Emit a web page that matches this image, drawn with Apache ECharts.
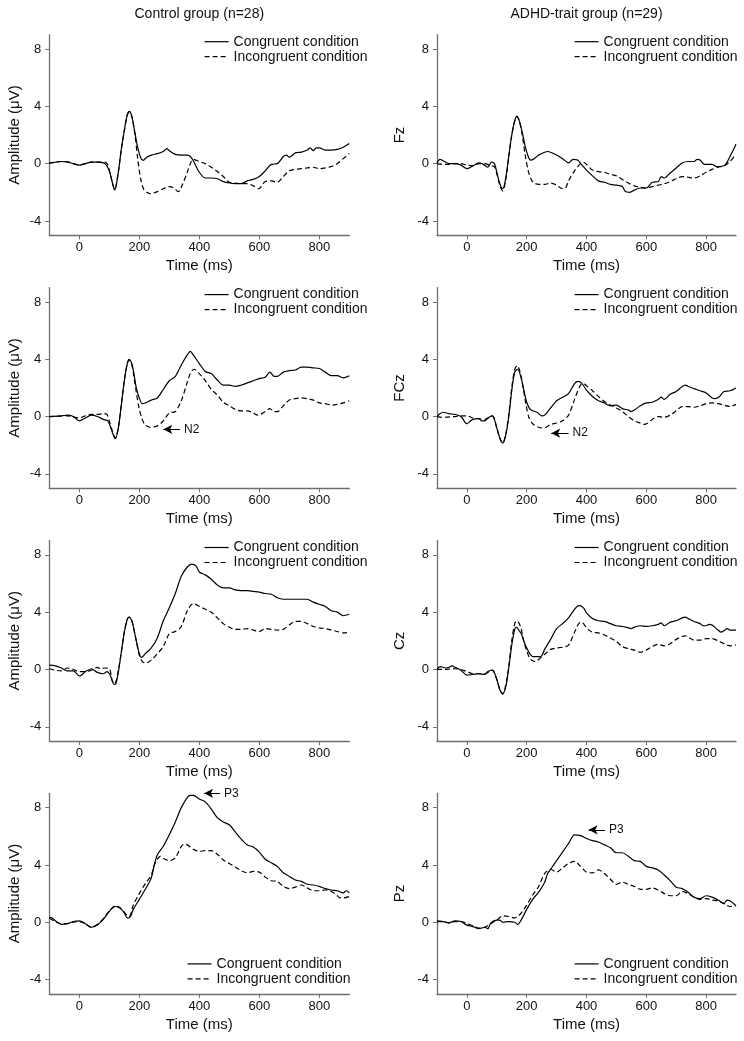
<!DOCTYPE html>
<html>
<head>
<meta charset="utf-8">
<script src="https://cdn.jsdelivr.net/npm/echarts@6/dist/echarts.min.js"></script>
<style>
html,body{margin:0;padding:0;background:#fff;}
#chart{width:744px;height:1041px;}
</style>
</head>
<body>
<div id="chart"></div>
<script>
// ---------- DATA (time ms, amplitude µV) ----------
const xTicks = [0, 200, 400, 600, 800];
const yTicks = [-4, 0, 4, 8];
const groupTitles = ['Control group (n=28)', 'ADHD-trait group (n=29)'];
const seriesNames = ['Congruent condition', 'Incongruent condition'];
const rightAxisNames = ['Fz', 'FCz', 'Cz', 'Pz'];
const leftAxisName = 'Amplitude (\u03bcV)';

const ctrlFzCong = [[-100,0.05],[-80,0.1],[-60,0.15],[-40,0.12],[-20,0],[0,-0.1],[20,0],[40,0.1],[60,0.1],[80,0.05],[90,-0.1],[100,-0.5],[110,-1.3],[118,-1.85],[130,-0.6],[140,1.0],[150,2.3],[160,3.4],[167,3.65],[175,3.3],[185,2.2],[195,1.1],[205,0.4],[213,0.23],[225,0.45],[240,0.6],[260,0.7],[280,0.85],[292,1.05],[300,0.9],[320,0.65],[340,0.6],[360,0.6],[370,0.5],[380,0.2],[400,-0.6],[420,-1.0],[440,-1.0],[460,-1.05],[480,-1.25],[500,-1.35],[520,-1.4],[540,-1.4],[560,-1.2],[580,-1.1],[600,-0.9],[620,-0.5],[640,-0.05],[660,0.0],[680,0.5],[690,0.6],[700,0.45],[720,0.75],[740,0.8],[760,0.95],[770,1.1],[780,0.9],[790,1.1],[800,1.1],[820,0.95],[840,0.95],[860,1.0],[880,1.15],[900,1.4]];
const ctrlFzInc = [[-100,0.05],[-80,0.1],[-60,0.15],[-40,0.12],[-20,0],[0,-0.1],[20,0],[40,0.1],[60,0.1],[85,0.1],[95,-0.1],[105,-0.9],[118,-1.8],[130,-0.6],[140,1.0],[150,2.3],[160,3.4],[167,3.6],[175,3.3],[185,2.1],[195,0.3],[205,-1.1],[215,-1.8],[225,-2.0],[238,-2.1],[260,-1.95],[280,-1.75],[300,-1.6],[315,-1.7],[330,-1.95],[345,-1.4],[360,-0.6],[370,0.0],[380,0.3],[400,0.15],[420,0.0],[440,-0.25],[460,-0.55],[480,-0.9],[500,-1.3],[520,-1.35],[540,-1.4],[560,-1.4],[580,-1.55],[598,-1.75],[620,-1.25],[640,-1.2],[660,-1.3],[680,-0.9],[700,-0.5],[720,-0.4],[740,-0.35],[760,-0.3],[780,-0.25],[800,-0.35],[820,-0.3],[840,-0.2],[860,0.0],[880,0.35],[900,0.7]];

const adhdFzCong = [[-100,0.05],[-90,0.3],[-75,0.15],[-60,0.0],[-40,0.0],[-20,-0.1],[0,-0.35],[20,-0.15],[40,0.05],[55,-0.05],[70,-0.25],[82,0.1],[92,0.0],[100,-0.6],[110,-1.4],[120,-1.75],[130,-1.0],[140,0.5],[150,2.0],[160,3.0],[167,3.3],[175,3.0],[185,2.2],[195,1.2],[205,0.5],[213,0.25],[225,0.35],[240,0.6],[260,0.8],[270,0.85],[280,0.8],[300,0.6],[320,0.35],[340,0.05],[355,0.3],[370,0.25],[385,-0.1],[400,-0.45],[420,-0.85],[440,-1.2],[460,-1.3],[480,-1.45],[500,-1.5],[520,-1.6],[530,-1.95],[545,-2.0],[560,-1.85],[580,-1.7],[600,-1.7],[620,-1.3],[640,-1.25],[650,-0.9],[660,-1.0],[680,-0.65],[700,-0.3],[720,0.05],[740,0.15],[760,0.15],[770,0.3],[780,0.25],[795,-0.05],[820,-0.05],[835,-0.2],[860,-0.15],[880,0.5],[900,1.35]];
const adhdFzInc = [[-100,0.0],[-80,-0.05],[-60,-0.05],[-40,0.0],[-20,0.0],[0,-0.1],[20,-0.15],[40,0.0],[60,0.0],[80,-0.15],[92,-0.2],[100,-0.7],[110,-1.5],[120,-1.9],[130,-1.1],[140,0.5],[150,2.0],[160,3.0],[167,3.3],[175,3.0],[185,2.0],[195,0.6],[205,-0.5],[215,-1.1],[225,-1.35],[240,-1.45],[260,-1.45],[280,-1.35],[300,-1.5],[320,-1.75],[330,-1.7],[340,-1.2],[360,-0.5],[380,0.0],[390,0.1],[400,-0.05],[420,-0.45],[440,-0.55],[460,-0.6],[480,-0.75],[500,-0.85],[520,-1.1],[540,-1.35],[560,-1.55],[580,-1.65],[600,-1.7],[620,-1.6],[640,-1.5],[660,-1.4],[680,-1.25],[700,-1.05],[720,-0.9],[740,-0.95],[760,-1.0],[780,-0.85],[800,-0.6],[820,-0.4],[840,-0.25],[860,-0.15],[880,0.15],[900,0.65]];

const ctrlFCzCong = [[-100,0.0],[-60,0.05],[-40,0.1],[-20,0.0],[0,-0.3],[20,-0.1],[40,0.1],[60,0.0],[80,-0.2],[95,-0.3],[105,-0.8],[112,-1.2],[120,-1.55],[130,-0.8],[140,0.8],[150,2.5],[160,3.7],[166,4.0],[175,3.7],[182,3.0],[190,2.0],[200,1.3],[210,0.9],[220,0.95],[240,1.15],[260,1.3],[280,1.9],[300,2.5],[320,2.8],[340,3.6],[360,4.3],[370,4.55],[380,4.3],[400,3.7],[420,3.15],[440,3.0],[460,2.55],[480,2.2],[500,2.2],[520,2.1],[540,2.2],[560,2.35],[580,2.5],[600,2.65],[620,2.75],[635,3.1],[650,2.8],[660,2.8],[680,3.1],[700,3.2],[720,3.25],[740,3.45],[760,3.45],[780,3.4],[800,3.35],[820,3.1],[840,2.85],[860,2.85],[880,2.7],[900,2.85]];
const ctrlFCzInc = [[-100,0.0],[-40,0.05],[0,-0.1],[20,0.05],[40,0.15],[60,0.15],[80,0.2],[92,0.15],[100,-0.3],[110,-1.0],[120,-1.5],[130,-0.8],[140,0.8],[150,2.5],[160,3.7],[166,3.95],[175,3.6],[182,2.8],[190,1.7],[200,0.5],[210,-0.2],[220,-0.6],[238,-0.75],[260,-0.65],[280,-0.3],[300,0.25],[320,0.35],[340,1.1],[360,2.4],[370,3.0],[382,3.3],[400,3.0],[420,2.5],[440,1.9],[460,1.5],[480,1.0],[500,0.75],[520,0.5],[540,0.4],[560,0.4],[580,0.25],[595,0.1],[620,0.35],[635,0.55],[650,0.35],[660,0.35],[680,0.75],[700,1.15],[720,1.25],[740,1.3],[760,1.25],[780,1.15],[800,0.95],[820,0.9],[840,0.8],[860,0.85],[880,0.95],[900,1.1]];

const adhdFCzCong = [[-100,0.0],[-90,0.2],[-80,0.3],[-60,0.2],[-40,0.15],[-20,0.0],[0,-0.5],[10,-0.35],[20,-0.2],[40,-0.15],[50,-0.3],[60,-0.3],[70,-0.1],[85,0.05],[100,-0.8],[110,-1.5],[120,-1.85],[130,-1.3],[140,0.0],[150,1.8],[160,3.1],[170,3.3],[180,2.8],[190,1.9],[200,1.0],[210,0.55],[220,0.4],[235,0.3],[250,0.05],[260,0.1],[280,0.6],[300,1.1],[320,1.35],[340,1.6],[360,2.3],[372,2.45],[385,2.3],[400,1.85],[420,1.4],[440,1.1],[460,0.95],[480,0.75],[500,0.8],[520,0.55],[540,0.45],[550,0.35],[560,0.45],[580,0.75],[600,0.95],[620,1.0],[640,1.2],[650,1.35],[660,1.2],[680,1.55],[700,1.75],[720,2.1],[730,2.2],[740,2.1],[760,1.95],[780,1.8],[800,1.65],[820,1.3],[830,1.25],[845,1.4],[860,1.75],[880,1.8],[900,2.0]];
const adhdFCzInc = [[-100,0.0],[-80,-0.05],[-40,0.0],[-20,0.05],[0,0.05],[20,-0.1],[40,-0.15],[60,-0.2],[85,0.05],[100,-0.8],[110,-1.5],[120,-1.85],[130,-1.2],[140,0.1],[150,2.0],[160,3.3],[168,3.55],[178,3.1],[188,2.0],[198,0.8],[208,-0.1],[220,-0.5],[240,-0.75],[252,-0.8],[265,-0.75],[280,-0.55],[300,-0.45],[320,-0.3],[340,0.1],[360,1.2],[380,2.2],[390,2.3],[400,2.15],[420,1.8],[440,1.4],[460,1.05],[480,0.8],[500,0.6],[520,0.35],[540,0.0],[560,-0.3],[580,-0.45],[592,-0.55],[605,-0.45],[620,-0.2],[640,0.0],[660,-0.05],[680,0.1],[700,0.4],[720,0.7],[740,0.7],[760,0.65],[780,0.75],[800,0.9],[820,0.95],[840,0.9],[860,0.8],[880,0.7],[900,0.85]];

const ctrlCzCong = [[-100,0.3],[-80,0.25],[-60,0.1],[-40,-0.1],[-20,-0.1],[0,-0.45],[10,-0.35],[20,-0.15],[40,0.05],[60,-0.2],[80,-0.3],[92,-0.15],[102,-0.35],[110,-0.8],[116,-1.05],[122,-1.0],[130,-0.2],[140,1.2],[150,2.6],[160,3.5],[166,3.65],[175,3.4],[182,2.8],[190,2.0],[200,1.1],[206,0.85],[212,0.9],[220,1.1],[240,1.5],[260,2.2],[280,3.4],[300,4.3],[320,5.3],[340,6.5],[360,7.15],[375,7.35],[390,7.2],[400,6.8],[420,6.6],[440,6.3],[460,5.9],[480,5.7],[500,5.7],[520,5.55],[540,5.5],[560,5.5],[580,5.45],[600,5.4],[620,5.3],[640,5.25],[660,5.0],[680,4.9],[700,4.9],[720,4.9],[740,4.9],[760,4.9],[780,4.7],[800,4.55],[820,4.4],[840,4.1],[860,4.0],[880,3.75],[900,3.85]];
const ctrlCzInc = [[-100,0.05],[-80,-0.05],[-60,-0.1],[-40,0.1],[-20,0.0],[0,-0.15],[20,-0.15],[40,-0.05],[60,0.15],[70,0.05],[85,0.1],[100,0.05],[110,-0.8],[118,-1.0],[128,-0.3],[140,1.2],[150,2.6],[160,3.5],[166,3.65],[175,3.4],[182,2.8],[190,2.0],[200,1.0],[210,0.55],[222,0.45],[240,0.65],[260,1.1],[280,1.6],[300,2.5],[320,2.65],[340,3.0],[360,4.1],[380,4.6],[400,4.4],[420,4.2],[440,4.0],[460,3.6],[480,3.2],[500,2.95],[520,2.8],[540,2.8],[560,2.85],[580,2.75],[600,2.65],[620,2.85],[640,2.8],[660,2.75],[680,2.8],[700,3.1],[720,3.35],[740,3.35],[760,3.2],[780,3.0],[800,2.9],[820,2.85],[840,2.75],[860,2.65],[880,2.55],[900,2.6]];

const adhdCzCong = [[-100,0.0],[-90,0.2],[-70,0.1],[-60,0.15],[-50,0.25],[-40,0.15],[-20,-0.05],[0,-0.4],[20,-0.35],[40,-0.3],[60,-0.35],[70,-0.15],[85,-0.05],[100,-0.7],[110,-1.4],[120,-1.7],[130,-1.2],[140,0.1],[150,1.7],[160,2.8],[166,2.95],[175,2.7],[182,2.5],[190,2.0],[200,1.5],[210,1.1],[220,0.9],[240,0.9],[250,0.95],[260,1.4],[280,2.1],[300,2.85],[320,3.2],[340,3.6],[360,4.2],[375,4.45],[390,4.3],[400,3.95],[420,3.55],[440,3.4],[460,3.35],[480,3.2],[500,3.05],[520,3.0],[540,2.9],[550,2.85],[560,2.95],[580,3.05],[600,3.0],[620,3.05],[640,3.15],[650,3.25],[660,3.05],[680,3.3],[700,3.4],[720,3.6],[730,3.65],[740,3.55],[760,3.35],[780,3.2],[790,3.05],[800,3.05],[810,3.15],[820,3.1],[840,2.75],[850,2.6],[860,2.7],[870,2.85],[880,2.75],[900,2.75]];
const adhdCzInc = [[-100,0.0],[-80,0.0],[-40,0.05],[-20,0.0],[0,-0.15],[20,-0.3],[40,-0.3],[60,-0.3],[85,-0.05],[100,-0.7],[110,-1.4],[120,-1.7],[130,-1.1],[140,0.2],[150,2.0],[160,3.2],[167,3.4],[175,3.2],[182,2.8],[190,2.0],[200,1.3],[210,0.8],[220,0.6],[230,0.55],[240,0.7],[260,1.05],[280,1.4],[300,1.5],[320,1.55],[340,1.7],[360,2.6],[380,3.3],[390,3.2],[400,2.9],[420,2.6],[440,2.55],[460,2.4],[480,2.2],[500,1.95],[520,1.6],[540,1.45],[560,1.35],[580,1.2],[600,1.35],[620,1.6],[640,1.75],[660,1.65],[680,1.8],[700,2.1],[720,2.3],[730,2.35],[740,2.25],[760,2.05],[780,2.05],[800,2.15],[820,2.15],[840,2.0],[860,1.8],[880,1.65],[900,1.7]];

const ctrlPzCong = [[-100,0.35],[-90,0.3],[-80,0.1],[-60,-0.15],[-40,-0.1],[-20,0.05],[0,0.1],[20,-0.1],[40,-0.35],[60,-0.2],[80,0.2],[100,0.75],[120,1.1],[130,1.05],[140,0.9],[150,0.65],[160,0.3],[166,0.3],[172,0.45],[180,0.9],[200,1.6],[220,2.3],[240,3.1],[250,4.0],[260,4.7],[280,5.3],[300,6.1],[320,7.0],[340,8.0],[360,8.7],[370,8.85],[380,8.85],[400,8.6],[420,8.4],[440,7.9],[460,7.3],[480,7.0],[500,6.8],[520,6.3],[540,5.8],[560,5.4],[580,5.25],[600,4.9],[620,4.4],[640,4.15],[660,3.9],[680,3.45],[700,3.2],[720,2.95],[740,2.85],[760,2.65],[780,2.6],[800,2.5],[820,2.35],[840,2.25],[860,2.2],[880,2.05],[890,2.2],[900,2.05]];
const ctrlPzInc = [[-100,0.3],[-80,0.05],[-60,-0.1],[-40,-0.1],[-20,0.0],[0,0.05],[20,-0.1],[40,-0.35],[60,-0.15],[80,0.25],[100,0.8],[120,1.15],[130,1.1],[140,0.95],[150,0.7],[160,0.45],[166,0.4],[172,0.6],[180,1.2],[200,2.0],[220,2.7],[240,3.3],[250,4.0],[260,4.4],[270,4.6],[280,4.45],[300,4.3],[320,4.5],[340,5.3],[350,5.45],[360,5.4],[380,5.1],[400,4.95],[420,5.0],[440,5.0],[460,4.75],[480,4.35],[500,4.1],[520,3.85],[540,3.6],[560,3.45],[580,3.55],[600,3.5],[620,3.15],[640,2.9],[660,2.85],[680,2.5],[700,2.35],[720,2.45],[740,2.6],[760,2.4],[780,2.2],[800,2.2],[820,2.25],[840,2.15],[860,1.85],[870,1.7],[880,1.7],[900,1.8]];

const adhdPzCong = [[-100,0.05],[-80,0.05],[-60,-0.05],[-40,0.1],[-20,0.05],[0,-0.2],[20,-0.3],[40,-0.45],[60,-0.35],[70,-0.45],[80,-0.05],[100,0.15],[110,0.15],[120,0.0],[140,0.05],[160,0.0],[170,-0.15],[180,0.1],[200,0.9],[220,1.6],[240,2.1],[260,2.8],[270,3.4],[280,3.7],[300,4.3],[320,4.9],[340,5.5],[360,6.1],[380,6.05],[400,5.85],[420,5.7],[440,5.6],[460,5.4],[480,5.2],[500,4.85],[520,4.85],[540,4.6],[560,4.3],[580,4.25],[600,3.9],[620,3.8],[640,3.65],[660,3.3],[680,2.9],[700,2.45],[720,2.35],[740,2.1],[760,1.75],[780,1.65],[800,1.85],[820,1.75],[840,1.55],[860,1.3],[870,1.55],[880,1.5],[900,1.15]];
const adhdPzInc = [[-100,0.1],[-80,0.05],[-60,-0.05],[-40,0.05],[-20,0.05],[0,-0.1],[20,-0.25],[40,-0.4],[60,-0.35],[80,-0.1],[100,0.15],[120,0.45],[140,0.4],[160,0.3],[170,0.4],[180,0.6],[200,1.2],[220,1.9],[240,2.5],[260,3.4],[280,3.7],[300,3.5],[320,3.8],[340,4.1],[360,4.25],[380,3.9],[400,3.5],[420,3.45],[440,3.65],[460,3.4],[480,3.0],[500,2.65],[520,2.8],[540,2.65],[560,2.5],[580,2.3],[600,2.3],[620,2.4],[640,2.25],[660,2.0],[680,1.85],[700,1.85],[720,2.15],[740,2.0],[760,1.75],[780,1.6],[800,1.65],[820,1.55],[840,1.5],[860,1.3],[880,1.1],[900,1.15]];

// annotation arrows: panel index, label, tail point, tip point, series (0=cong,1=inc)
const annotations = [
  {panel: 2, label: 'N2', from: [336, -0.89], to: [280, -0.89], s: 1},
  {panel: 3, label: 'N2', from: [340, -1.16], to: [282, -1.16], s: 1},
  {panel: 6, label: 'P3', from: [469, 9.0], to: [416, 9.0], s: 0},
  {panel: 7, label: 'P3', from: [462, 6.45], to: [407, 6.45], s: 0}
];

// ---------- LAYOUT ----------
const FONT = '"Liberation Sans", Arial, Helvetica, sans-serif';
const colLeft = [49.3, 437];
const colWidth = [300, 299];
const rowTop = [34.7, 287.6, 540.5, 793.3];
const gridH = 200.6;

const panels = [
  {row:0, col:0, cong: ctrlFzCong,  inc: ctrlFzInc},
  {row:0, col:1, cong: adhdFzCong,  inc: adhdFzInc},
  {row:1, col:0, cong: ctrlFCzCong, inc: ctrlFCzInc},
  {row:1, col:1, cong: adhdFCzCong, inc: adhdFCzInc},
  {row:2, col:0, cong: ctrlCzCong,  inc: ctrlCzInc},
  {row:2, col:1, cong: adhdCzCong,  inc: adhdCzInc},
  {row:3, col:0, cong: ctrlPzCong,  inc: ctrlPzInc},
  {row:3, col:1, cong: adhdPzCong,  inc: adhdPzInc}
];

const axisColor = '#6e6e6e';
const grids = [], xAxes = [], yAxes = [], series = [], legends = [];

panels.forEach((p, i) => {
  grids.push({left: colLeft[p.col], top: rowTop[p.row], width: colWidth[p.col], height: gridH});
  xAxes.push({
    type: 'value', gridIndex: i, min: -100, max: 900,
    name: 'Time (ms)', nameLocation: 'middle', nameGap: 23,
    nameTextStyle: {fontFamily: FONT, fontSize: 15, color: '#111'},
    axisLine: {show: true, onZero: false, lineStyle: {color: axisColor, width: 1.3}},
    axisTick: {show: true, length: 4, customValues: xTicks, lineStyle: {color: axisColor}},
    axisLabel: {customValues: xTicks, fontFamily: FONT, fontSize: 13, color: '#111', margin: 6},
    splitLine: {show: false}
  });
  yAxes.push({
    type: 'value', gridIndex: i, min: -5, max: 9,
    name: p.col === 0 ? leftAxisName : rightAxisNames[p.row],
    nameLocation: 'middle', nameGap: p.col === 0 ? 27 : 30,
    nameTextStyle: {fontFamily: FONT, fontSize: 15, color: '#111'},
    axisLine: {show: true, onZero: false, lineStyle: {color: axisColor, width: 1.3}},
    axisTick: {show: true, length: 4, customValues: yTicks, lineStyle: {color: axisColor}},
    axisLabel: {customValues: yTicks, fontFamily: FONT, fontSize: 13, color: '#111', margin: 8},
    splitLine: {show: false}
  });
  [p.cong, p.inc].forEach((d, k) => {
    const s = {
      type: 'line', name: seriesNames[k], xAxisIndex: i, yAxisIndex: i,
      data: d, symbol: 'none', showSymbol: false, smooth: 0.3, clip: false,
      lineStyle: {color: '#000', width: 1.2, type: k === 0 ? 'solid' : [5, 3]},
      itemStyle: {color: '#000'}, emphasis: {disabled: true}, z: 3 - k
    };
    const ann = annotations.filter(a => a.panel === i && a.s === k);
    if (ann.length) {
      s.markLine = {
        silent: true, symbol: ['none', 'arrow'], symbolSize: [7, 9],
        lineStyle: {color: '#000', type: 'solid', width: 1},
        label: {show: true, position: 'start', fontFamily: FONT, fontSize: 12, color: '#111', distance: 4,
                formatter: () => ann[0].label},
        data: ann.map(a => [{coord: a.from}, {coord: a.to}])
      };
    }
    series.push(s);
  });
  const bottomLegend = p.row === 3;
  legends.push({
    orient: 'vertical',
    left: p.col === 0 ? (bottomLegend ? 187 : 204) : 574,
    top: bottomLegend ? rowTop[p.row] + gridH - 37 : rowTop[p.row],
    itemWidth: 24, itemHeight: 14, itemGap: 1, padding: 0,
    selectedMode: false,
    itemStyle: {opacity: 0},
    lineStyle: {color: '#000', width: 1.2},
    textStyle: {fontFamily: FONT, fontSize: 14, color: '#111'},
    data: [{name: seriesNames[0]}, {name: seriesNames[1]}]
  });
});

const chart = echarts.init(document.getElementById('chart'), null, {renderer: 'canvas'});
chart.setOption({
  animation: false,
  backgroundColor: '#fff',
  grid: grids, xAxis: xAxes, yAxis: yAxes, series: series, legend: legends,
  graphic: groupTitles.map((t, c) => ({
    type: 'text', x: colLeft[c] + colWidth[c] / 2, y: 14,
    style: {text: t, font: '14px ' + FONT, fill: '#111', textAlign: 'center', textVerticalAlign: 'middle'}
  }))
});
</script>
</body>
</html>
